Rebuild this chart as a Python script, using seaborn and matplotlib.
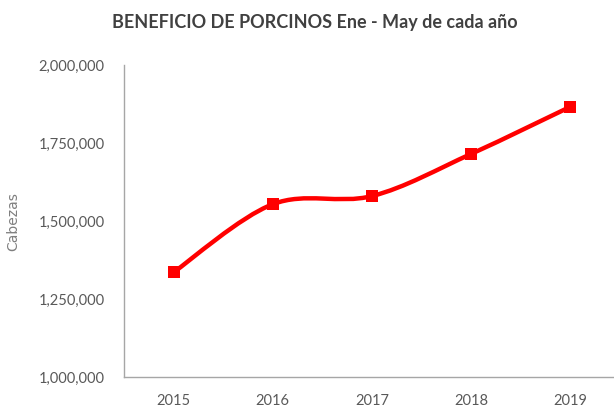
import numpy as np
import pandas as pd
import seaborn as sns
import matplotlib.pyplot as plt
from matplotlib.path import Path
from matplotlib.patches import PathPatch
from matplotlib.ticker import FuncFormatter

# data
years = ["2015", "2016", "2017", "2018", "2019"]
cabezas = [1336000, 1554000, 1580000, 1715000, 1866000]

df = pd.DataFrame({"Año": years, "Cabezas": cabezas})

sns.set_theme(style="white")
plt.rcParams["font.family"] = ["Lato", "DejaVu Sans"]

fig = plt.figure(figsize=(6.14, 4.09), dpi=100)
ax = fig.add_axes([0.202, 0.078, 0.796, 0.763])

x = np.arange(len(years), dtype=float)
y = np.array(cabezas, dtype=float)

# smoothed line (Excel-like Catmull-Rom -> cubic bezier)
verts = [(x[0], y[0])]
codes = [Path.MOVETO]
n = len(x)
for i in range(n - 1):
    p0 = (x[max(i - 1, 0)], y[max(i - 1, 0)])
    p1 = (x[i], y[i])
    p2 = (x[i + 1], y[i + 1])
    p3 = (x[min(i + 2, n - 1)], y[min(i + 2, n - 1)])
    c1 = (p1[0] + (p2[0] - p0[0]) / 6, p1[1] + (p2[1] - p0[1]) / 6)
    c2 = (p2[0] - (p3[0] - p1[0]) / 6, p2[1] - (p3[1] - p1[1]) / 6)
    verts += [c1, c2, p2]
    codes += [Path.CURVE4] * 3
ax.add_patch(PathPatch(Path(verts, codes), facecolor="none",
                       edgecolor="#ff0000", lw=3.2, capstyle="round", zorder=2))

sns.scatterplot(x=x, y=df["Cabezas"], marker="s", s=64, color="#ff0000",
                edgecolor="#ff0000", linewidth=0, ax=ax, zorder=3)

ax.set_xlim(-0.5, 4.43)
ax.set_ylim(1000000, 2000000)
ax.set_xticks(x)
ax.set_xticklabels(years)
ax.set_yticks([1000000, 1250000, 1500000, 1750000, 2000000])
ax.yaxis.set_major_formatter(FuncFormatter(lambda v, p: f"{int(v):,}"))
ax.tick_params(axis="both", labelsize=10.5, colors="#595959", length=0)
ax.tick_params(axis="x", pad=12)
ax.tick_params(axis="y", pad=14)

for s in ["top", "right"]:
    ax.spines[s].set_visible(False)
for s in ["left", "bottom"]:
    ax.spines[s].set_color("#a6a6a6")
    ax.spines[s].set_linewidth(1.0)

ax.set_xlabel("")
ax.set_ylabel("Cabezas", fontsize=10, color="#7f7f7f",
              family=["DejaVu Sans"])
ax.yaxis.set_label_coords(-0.213, 0.5)

fig.text(0.512, 0.945, "BENEFICIO DE PORCINOS Ene - May de cada año",
         ha="center", va="center", fontsize=13, fontweight="bold",
         color="#404040")

fig.savefig("out.png", dpi=100)
